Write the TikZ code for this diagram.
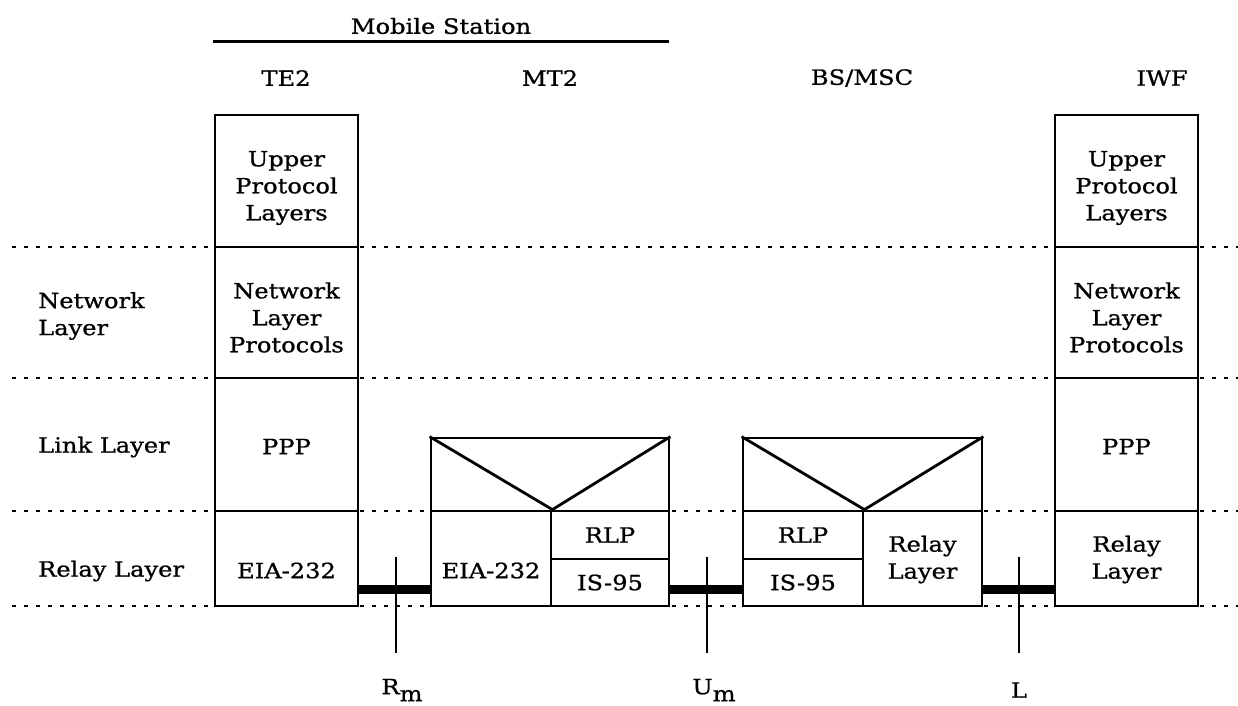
\documentclass[tikz,border=0pt]{standalone}
\usepackage{fontspec}
\setmainfont{DejaVu Serif}[FakeStretch=1.15, FakeBold=0.9]
\usetikzlibrary{calc}
\tikzset{
  cell/.style={draw, line width=2.8pt, fill=white, inner sep=0pt},
  txt/.style={inner sep=0pt, align=center, font=\fontsize{21}{27}\selectfont},
  lbl/.style={inner sep=0pt, align=left, anchor=west, font=\fontsize{21}{27}\selectfont},
  hdr/.style={inner sep=0pt, font=\fontsize{21}{27}\selectfont},
  dotline/.style={line width=2.6pt, dash pattern=on 4pt off 8pt},
  link/.style={line width=9pt},
  tick/.style={line width=2pt},
  vline/.style={line width=2.8pt}
}
\begin{document}
\begin{tikzpicture}[x=1pt,y=-1pt]
\useasboundingbox (0,0) rectangle (1238,705);
% dotted layer separators
\foreach \yy in {247,378,511,606} \draw[dotline] (12,\yy) -- (1238,\yy);
% header
\node[hdr] (ms) at (441,26) {Mobile Station};
\coordinate (msl) at (213,41);
\coordinate (msr) at (669,41);
\draw[line width=3pt] (msl) -- (msr);
\node[hdr] (te2) at (286,78) {TE2};
\node[hdr] (mt2) at (550,78) {MT2};
\node[hdr] (bs) at (862,78) {BS/MSC};
\node[hdr] (iwf) at (1162,78) {IWF};
% left labels
\node[lbl] (netl) at (38,316) {Network\\Layer};
\node[lbl] (linkl) at (38,447) {Link Layer};
\node[lbl] (relayl) at (38,571) {Relay Layer};
% TE2 stack
\node[cell, minimum width=143pt, minimum height=132pt] (te2u) at (286.5,181) {};
\node[cell, minimum width=143pt, minimum height=131pt] (te2n) at (286.5,312.5) {};
\node[cell, minimum width=143pt, minimum height=133pt] (te2p) at (286.5,444.5) {};
\node[cell, minimum width=143pt, minimum height=95pt] (te2e) at (286.5,558.5) {};
\node[txt] (te2ut) at ([yshift=-7pt]te2u.center) {Upper\\Protocol\\Layers};
\node[txt] (te2nt) at ([yshift=-5pt]te2n.center) {Network\\Layer\\Protocols};
\node[txt] (te2pt) at ([yshift=-2pt]te2p.center) {PPP};
\node[txt] (te2et) at ([yshift=-12pt]te2e.center) {EIA-232};
% IWF stack
\node[cell, minimum width=143pt, minimum height=132pt] (iwfu) at (1126.5,181) {};
\node[cell, minimum width=143pt, minimum height=131pt] (iwfn) at (1126.5,312.5) {};
\node[cell, minimum width=143pt, minimum height=133pt] (iwfp) at (1126.5,444.5) {};
\node[cell, minimum width=143pt, minimum height=95pt] (iwfr) at (1126.5,558.5) {};
\node[txt] (iwfut) at ([yshift=-7pt]iwfu.center) {Upper\\Protocol\\Layers};
\node[txt] (iwfnt) at ([yshift=-5pt]iwfn.center) {Network\\Layer\\Protocols};
\node[txt] (iwfpt) at ([yshift=-2pt]iwfp.center) {PPP};
\node[txt] (iwfrt) at ([yshift=-1pt]iwfr.center) {Relay\\Layer};
% MT2 stack
\node[cell, minimum width=238pt, minimum height=73pt] (mt2t) at (550,474.5) {};
\node[cell, minimum width=120pt, minimum height=95pt] (mt2e) at (491,558.5) {};
\node[cell, minimum width=118pt, minimum height=48pt] (mt2r) at (610,535) {};
\node[cell, minimum width=118pt, minimum height=47pt] (mt2i) at (610,582.5) {};
\node[txt] (mt2et) at ([yshift=-12pt]mt2e.center) {EIA-232};
\node[txt] (mt2rt) at (mt2r.center) {RLP};
\node[txt] (mt2it) at (mt2i.center) {IS-95};
\draw[vline, line join=miter] (mt2t.north west) -- (mt2e.north east) -- (mt2t.north east);
% BS/MSC stack
\node[cell, minimum width=239pt, minimum height=73pt] (bst) at (862.5,474.5) {};
\node[cell, minimum width=120pt, minimum height=48pt] (bsr) at (803,535) {};
\node[cell, minimum width=120pt, minimum height=47pt] (bsi) at (803,582.5) {};
\node[cell, minimum width=119pt, minimum height=95pt] (bsy) at (922.5,558.5) {};
\node[txt] (bsrt) at (bsr.center) {RLP};
\node[txt] (bsit) at (bsi.center) {IS-95};
\node[txt] (bsyt) at ([yshift=-1pt]bsy.center) {Relay\\Layer};
\draw[vline, line join=miter] (bst.north west) -- (bsr.north east) -- (bst.north east);
% thick links
\draw[link] ($(te2e.south east)+(0,-18)$) -- ($(mt2e.south west)+(0,-18)$);
\draw[link] ($(mt2i.south east)+(0,-18)$) -- ($(bsi.south west)+(0,-18)$);
\draw[link] ($(bsy.south east)+(0,-18)$) -- ($(iwfr.south west)+(0,-18)$);
% reference points
\coordinate (rmt) at (396,557); \coordinate (rmb) at (396,653);
\coordinate (umt) at (707,557); \coordinate (umb) at (707,653);
\coordinate (lt) at (1019,557); \coordinate (lb) at (1019,653);
\draw[tick] (rmt) -- (rmb);
\draw[tick] (umt) -- (umb);
\draw[tick] (lt) -- (lb);
\node[hdr] (rm) at (402,690) {R\raisebox{-7pt}{m}};
\node[hdr] (um) at (714,690) {U\raisebox{-7pt}{m}};
\node[hdr] (l) at (1019,690) {L};
\end{tikzpicture}
\end{document}
